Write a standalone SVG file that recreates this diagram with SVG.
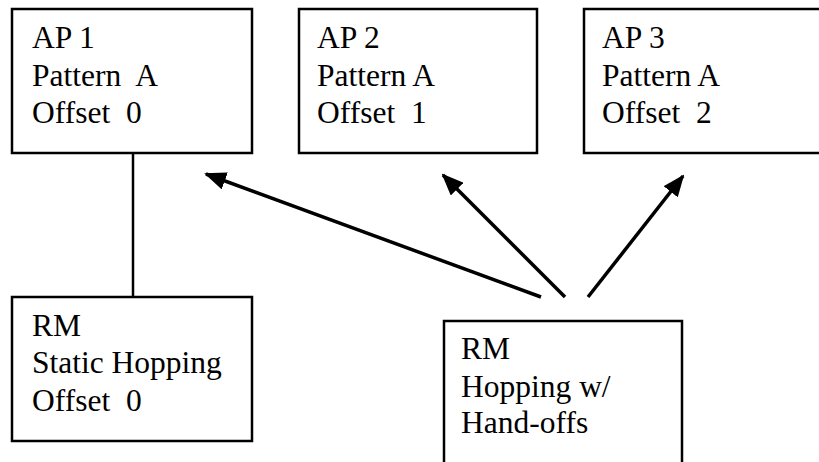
<svg xmlns="http://www.w3.org/2000/svg" width="819" height="462" viewBox="0 0 819 462">
<style>
.box{fill:#fff;stroke:#000;stroke-width:2.5}
.t{font-family:"Liberation Serif","Times New Roman",serif;font-size:31.5px;fill:#000;white-space:pre}
.c{stroke:#000;stroke-width:3.5;fill:none}
</style>
<defs>
<marker id="ah" markerUnits="userSpaceOnUse" markerWidth="22" markerHeight="18" refX="20" refY="9" orient="auto">
<path d="M0,0 L22,9 L0,18 Z" fill="#000"/>
</marker>
</defs>
<rect width="819" height="462" fill="#fff"/>
<g id="connectors">
<line class="c" x1="133" y1="153" x2="133" y2="297" style="stroke-width:2.5"/>
<line class="c" x1="541" y1="297" x2="206" y2="174" marker-end="url(#ah)"/>
<line class="c" x1="565" y1="297" x2="443" y2="175" marker-end="url(#ah)"/>
<line class="c" x1="588" y1="297" x2="683" y2="176" marker-end="url(#ah)"/>
</g>
<g id="ap1">
<rect class="box" x="12" y="9" width="240" height="144"/>
<text class="t" x="32" y="48">AP 1</text>
<text class="t" x="32" y="86">Pattern  A</text>
<text class="t" x="32" y="123">Offset  0</text>
</g>
<g id="ap2">
<rect class="box" x="299" y="9" width="238" height="144"/>
<text class="t" x="317" y="48">AP 2</text>
<text class="t" x="317" y="86">Pattern A</text>
<text class="t" x="317" y="123">Offset  1</text>
</g>
<g id="ap3">
<rect class="box" x="584" y="9" width="250" height="144"/>
<text class="t" x="602" y="48">AP 3</text>
<text class="t" x="602" y="86">Pattern A</text>
<text class="t" x="602" y="123">Offset  2</text>
</g>
<g id="rm1">
<rect class="box" x="12" y="297" width="240" height="144"/>
<text class="t" x="32" y="336">RM</text>
<text class="t" x="32" y="373">Static Hopping</text>
<text class="t" x="32" y="411">Offset  0</text>
</g>
<g id="rm2">
<rect class="box" x="444" y="321" width="238" height="160"/>
<text class="t" x="461" y="359">RM</text>
<text class="t" x="461" y="397">Hopping w/</text>
<text class="t" x="461" y="433">Hand-offs</text>
</g>
</svg>
